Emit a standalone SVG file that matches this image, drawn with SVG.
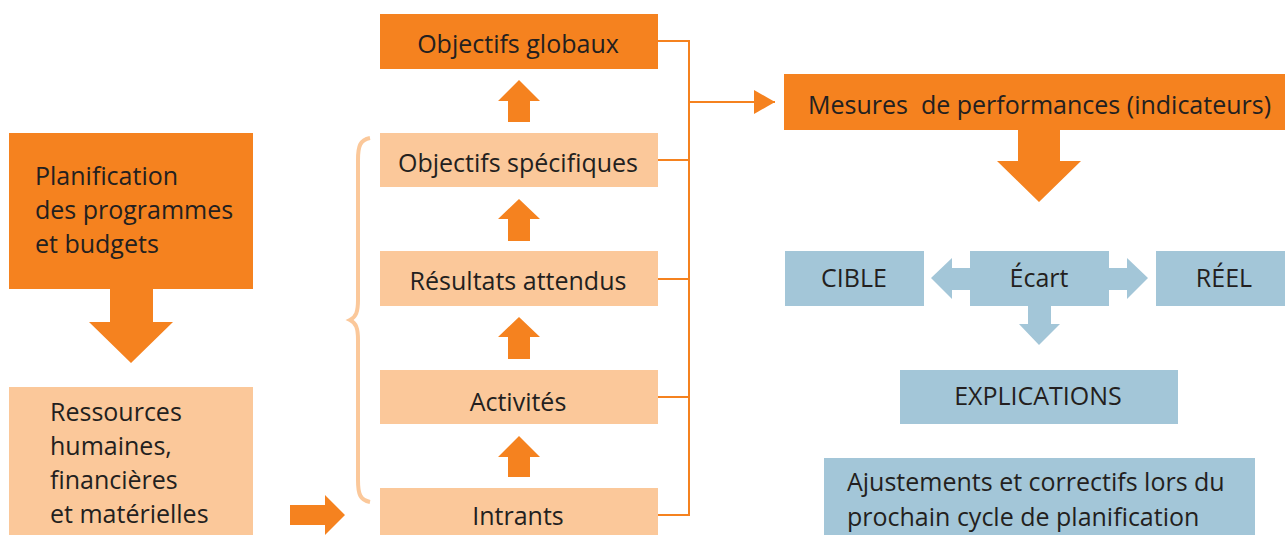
<svg xmlns="http://www.w3.org/2000/svg" width="1285" height="535" viewBox="0 0 1285 535">
  <style>
    .dark { fill: #F5821F; }
    .light { fill: #FBC89A; }
    .blue { fill: #A3C6D8; }
    .arrow { fill: #F5821F; }
    .barrow { fill: #A3C6D8; }
    text { font-family: "Open Sans", "Liberation Sans", sans-serif; font-size: 25px; fill: #231F20; }
    .c { text-anchor: middle; }
    .link { fill: none; stroke: #F5821F; stroke-width: 2; }
  </style>
  <defs>
    <marker id="head" markerUnits="userSpaceOnUse" markerWidth="22" markerHeight="26" refX="21" refY="12" orient="auto">
      <path d="M0,0 L21,12 L0,24 Z" fill="#F5821F"/>
    </marker>
  </defs>
  <rect width="1285" height="535" fill="#FFFFFF"/>

  <!-- left column -->
  <g id="planification">
    <rect class="dark" x="9" y="133" width="244" height="156"/>
    <text x="35" y="185">Planification</text>
    <text x="35" y="219">des programmes</text>
    <text x="35" y="253">et budgets</text>
  </g>
  <g id="ressources">
    <rect class="light" x="9" y="387" width="244" height="148"/>
    <text x="50" y="421">Ressources</text>
    <text x="50" y="455">humaines,</text>
    <text x="50" y="489">financières</text>
    <text x="50" y="523">et matérielles</text>
  </g>

  <!-- middle column -->
  <g id="objectifs-globaux">
    <rect class="dark" x="380" y="14" width="278" height="55"/>
    <text class="c" x="518" y="53">Objectifs globaux</text>
  </g>
  <g id="objectifs-specifiques">
    <rect class="light" x="380" y="133" width="278" height="54"/>
    <text class="c" x="518" y="172">Objectifs spécifiques</text>
  </g>
  <g id="resultats-attendus">
    <rect class="light" x="380" y="251" width="278" height="55"/>
    <text class="c" x="518" y="290">Résultats attendus</text>
  </g>
  <g id="activites">
    <rect class="light" x="380" y="370" width="278" height="54"/>
    <text class="c" x="518" y="411">Activités</text>
  </g>
  <g id="intrants">
    <rect class="light" x="380" y="488" width="278" height="47"/>
    <text class="c" x="518" y="525">Intrants</text>
  </g>

  <!-- right column -->
  <g id="mesures">
    <rect class="dark" x="784" y="74" width="501" height="56"/>
    <text x="808" y="114" font-size="24" xml:space="preserve">Mesures  de performances (indicateurs)</text>
  </g>
  <g id="cible">
    <rect class="blue" x="785" y="251" width="139" height="55"/>
    <text class="c" x="854" y="287">CIBLE</text>
  </g>
  <g id="ecart">
    <rect class="blue" x="970" y="251" width="139" height="55"/>
    <text class="c" x="1039" y="287">Écart</text>
  </g>
  <g id="reel">
    <rect class="blue" x="1156" y="251" width="129" height="55"/>
    <text class="c" x="1224" y="287">RÉEL</text>
  </g>
  <g id="explications">
    <rect class="blue" x="900" y="370" width="278" height="54"/>
    <text class="c" x="1038" y="405">EXPLICATIONS</text>
  </g>
  <g id="ajustements">
    <rect class="blue" x="824" y="458" width="431" height="77"/>
    <text x="847" y="491">Ajustements et correctifs lors du</text>
    <text x="847" y="526">prochain cycle de planification</text>
  </g>

  <!-- connectors -->
  <g id="connectors">
    <!-- block arrows -->
    <path class="arrow" d="M110,289 H153 V322 H173 L131,363 L89,322 H110 Z"/>
    <path class="arrow" d="M290,505 H325 V495 L345,515 L325,535 V525 H290 Z"/>
    <path class="arrow" d="M508,122 V101 H498 L519,80 L540,101 H530 V122 Z"/>
    <path class="arrow" d="M508,241 V219 H498 L519,199 L540,219 H530 V241 Z"/>
    <path class="arrow" d="M508,359 V337 H498 L519,317 L540,337 H530 V359 Z"/>
    <path class="arrow" d="M508,477 V457 H498 L519,436 L540,457 H530 V477 Z"/>
    <path class="arrow" d="M1018,130 H1060 V161 H1081 L1039,202 L997,161 H1018 Z"/>
    <path class="barrow" d="M970,268 H952 V258 L931,278 L952,299 V290 H970 Z"/>
    <path class="barrow" d="M1109,268 H1127 V258 L1148,278 L1127,299 V290 H1109 Z"/>
    <path class="barrow" d="M1028,306 H1051 V324 H1060 L1039,345 L1019,324 H1028 Z"/>
    <!-- bracket lines from the middle column -->
    <path class="link" d="M658,41 H689 V515 H658 M658,160 H689 M658,279 H689 M658,397 H689"/>
    <path class="link" d="M689,102 H775" marker-end="url(#head)"/>
    <!-- brace -->
    <path d="M370,138 C360,140 358,146 358,160 V300 C358,312 356,317 350,320 C356,323 358,328 358,340 V480 C358,494 360,500 370,502" fill="none" stroke="#FBC89A" stroke-width="4"/>
  </g>
</svg>
